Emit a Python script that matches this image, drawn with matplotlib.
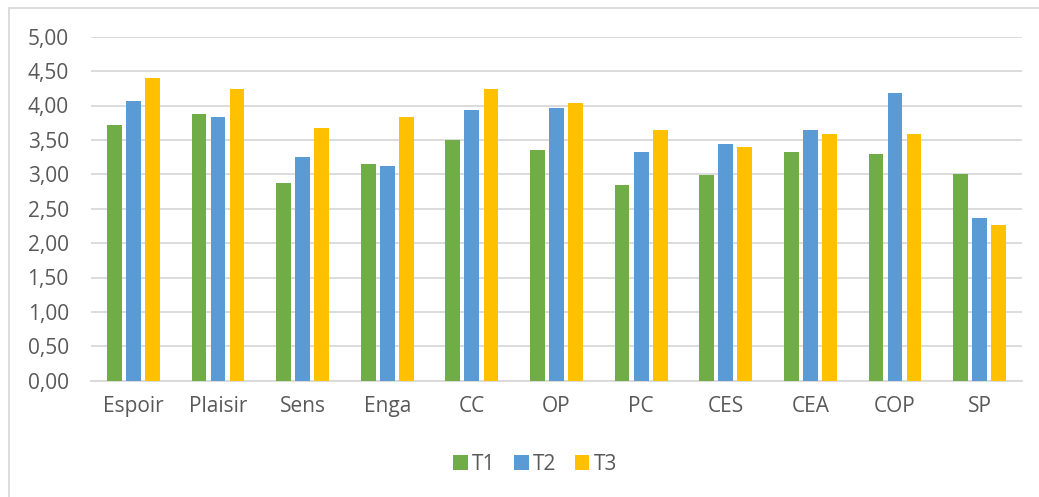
import numpy as np
import matplotlib.pyplot as plt
from matplotlib.patches import Rectangle

# data
categories = ['Espoir', 'Plaisir', 'Sens', 'Enga', 'CC', 'OP', 'PC', 'CES', 'CEA', 'COP', 'SP']
t1 = [3.71, 3.88, 2.87, 3.15, 3.50, 3.36, 2.84, 2.99, 3.32, 3.30, 3.00]
t2 = [4.07, 3.83, 3.25, 3.12, 3.94, 3.96, 3.33, 3.44, 3.64, 4.18, 2.37]
t3 = [4.40, 4.24, 3.68, 3.83, 4.24, 4.03, 3.64, 3.40, 3.59, 3.59, 2.26]
series_names = ['T1', 'T2', 'T3']
colors = ['#70AD47', '#5B9BD5', '#FFC000']

plt.rcParams['font.family'] = ['Open Sans', 'DejaVu Sans']
txt = '#595959'
grid = '#D9D9D9'
fs = 15

fig = plt.figure(figsize=(10.39, 4.97), dpi=100)
ax = fig.add_axes([91/1039, 1 - 380.7/497, (1022 - 91)/1039, 344/497])

# chart border (runs off the right/bottom edge like the screenshot)
fig.patches.append(Rectangle((9/1039, -0.1), 1.2, 1 - 8/497 + 0.1,
                             transform=fig.transFigure, fill=False,
                             edgecolor=grid, linewidth=1.3))

x = np.arange(len(categories))
step = 0.225
w = 0.175
for i, (vals, name) in enumerate(zip([t1, t2, t3], series_names)):
    ax.bar(x + (i - 1) * step, vals, width=w, color=colors[i], label=name, zorder=3)

ax.set_xlim(-0.5, len(categories) - 0.5)
ax.set_ylim(0, 5)
ax.set_yticks(np.arange(0, 5.01, 0.5))
ax.set_yticklabels([('%.2f' % v).replace('.', ',') for v in np.arange(0, 5.01, 0.5)])
ax.set_xticks(x)
ax.set_xticklabels(categories)
ax.yaxis.grid(True, color=grid, linewidth=1.3, zorder=0)
ax.set_axisbelow(True)
for s in ['top', 'right', 'left']:
    ax.spines[s].set_visible(False)
ax.spines['bottom'].set_color(grid)
ax.spines['bottom'].set_linewidth(1.3)
ax.tick_params(axis='y', length=0, pad=16, labelsize=fs, labelcolor=txt)
ax.tick_params(axis='x', length=0, pad=11, labelsize=fs, labelcolor=txt)

fig.legend(loc='center', bbox_to_anchor=(535/1039, 1 - 464/497), ncol=3,
           frameon=False, fontsize=fs, labelcolor=txt, handlelength=0.7,
           handleheight=0.7, handletextpad=0.2, columnspacing=0.9)

plt.savefig('out.png', dpi=100)
